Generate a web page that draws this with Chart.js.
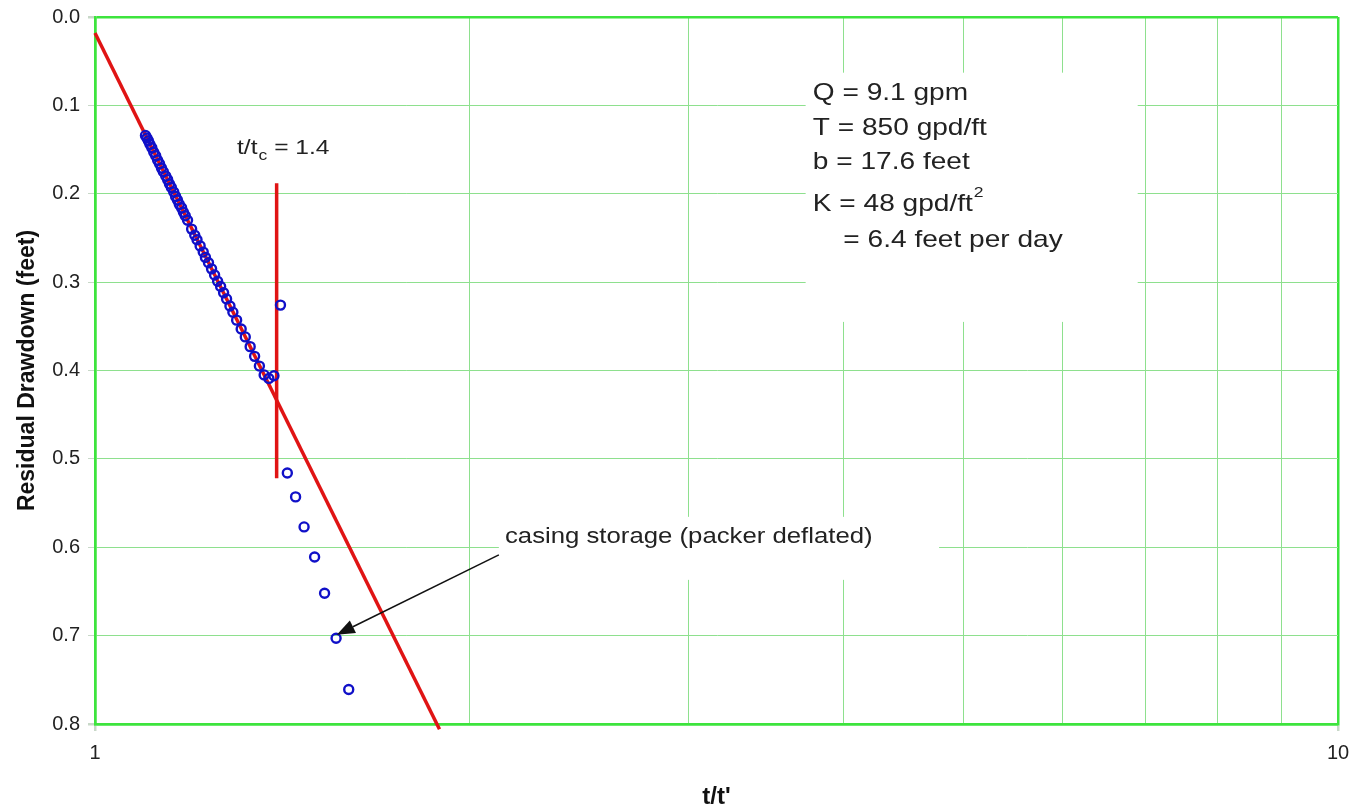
<!DOCTYPE html>
<html>
<head>
<meta charset="utf-8">
<script src="https://cdn.jsdelivr.net/npm/chart.js@4/dist/chart.umd.min.js"></script>
<style>
  html, body { margin: 0; padding: 0; background: #fff; }
  #wrap { width: 1357px; height: 810px; }
</style>
</head>
<body>
<div id="wrap"><canvas id="recoveryChart" width="1357" height="810"></canvas></div>
<script>
// recovery test data
const tRatio = [1.098, 1.101, 1.104, 1.107, 1.111, 1.115, 1.119, 1.123, 1.127, 1.131, 1.135, 1.140,
    1.144, 1.148, 1.152, 1.157, 1.161, 1.165, 1.169, 1.174, 1.178, 1.182, 1.187, 1.196, 1.203,
    1.208, 1.215, 1.222, 1.227, 1.234, 1.241, 1.248, 1.255, 1.262, 1.269, 1.276, 1.284, 1.291,
    1.300, 1.311, 1.321, 1.333, 1.344, 1.356, 1.368, 1.380, 1.393, 1.410, 1.428, 1.450, 1.473,
    1.502, 1.530, 1.563, 1.600];
const drawdown = [0.134, 0.137, 0.140, 0.144, 0.148, 0.153, 0.157, 0.162, 0.166, 0.171, 0.175, 0.180,
    0.184, 0.189, 0.193, 0.198, 0.203, 0.207, 0.212, 0.216, 0.221, 0.225, 0.230, 0.240, 0.247,
    0.252, 0.259, 0.266, 0.272, 0.278, 0.285, 0.292, 0.299, 0.305, 0.312, 0.319, 0.327, 0.334,
    0.343, 0.353, 0.362, 0.373, 0.384, 0.395, 0.405, 0.409, 0.406, 0.326, 0.516, 0.543, 0.577,
    0.611, 0.652, 0.703, 0.761];

// straight-line fit and the t/tc marker
const fitX = [1, 1.893];
const fitY = [0.018, 0.806];
const tcX = [1.4, 1.4];
const tcY = [0.188, 0.522];

const xGridValues = [1, 2, 3, 4, 5, 6, 7, 8, 9, 10];
const xTickLabels = ['1', '10'];
const yTickStep = 0.1;

const paramLines = ['Q = 9.1 gpm', 'T = 850 gpd/ft', 'b = 17.6 feet', 'K = 48 gpd/ft', '= 6.4 feet per day'];
const noteText = 'casing storage (packer deflated)';

const toPts = (xs, ys) => xs.map((x, i) => ({ x: x, y: ys[i] }));

const GRID = '#8ee08e';
const FRAME = '#3de43d';
const TXT = '#222';

// draw a string slightly stretched sideways, like the original picture
function stretchText(ctx, text, x, y, font, sx) {
    ctx.save();
    ctx.font = font;
    ctx.translate(x, y);
    ctx.scale(sx, 1);
    ctx.fillText(text, 0, 0);
    const w = ctx.measureText(text).width * sx;
    ctx.restore();
    return w;
}

const notesPlugin = {
    id: 'notes',
    beforeDatasetsDraw(chart) {
        const ctx = chart.ctx;
        const xs = chart.scales.x, ys = chart.scales.y;
        ctx.save();
        ctx.fillStyle = '#fff';
        // white text boxes over the grid
        let x0 = xs.getPixelForValue(3.73), x1 = xs.getPixelForValue(6.9);
        let y0 = ys.getPixelForValue(0.063), y1 = ys.getPixelForValue(0.345);
        ctx.fillRect(x0, y0, x1 - x0, y1 - y0);
        x0 = xs.getPixelForValue(2.113); x1 = xs.getPixelForValue(4.776);
        y0 = ys.getPixelForValue(0.5656); y1 = ys.getPixelForValue(0.6369);
        ctx.fillRect(x0, y0, x1 - x0, y1 - y0);
        ctx.restore();
    },
    afterDatasetsDraw(chart) {
        const ctx = chart.ctx;
        const xs = chart.scales.x, ys = chart.scales.y;
        const sx = 1.17;
        ctx.save();
        ctx.fillStyle = TXT;
        ctx.textBaseline = 'middle';
        ctx.textAlign = 'left';

        // parameter block
        const f24 = '24px "Liberation Sans", Arial, sans-serif';
        const px = xs.getPixelForValue(3.78);
        const rows = [0.086, 0.1256, 0.165, 0.2115, 0.2523];
        for (let i = 0; i < 4; i++) {
            const w = stretchText(ctx, paramLines[i], px, ys.getPixelForValue(rows[i]), f24, sx);
            if (i === 3) {
                stretchText(ctx, '2', px + w + 1, ys.getPixelForValue(rows[i]) - 11,
                    '15px "Liberation Sans", Arial, sans-serif', sx);
            }
        }
        stretchText(ctx, paramLines[4], xs.getPixelForValue(4.0), ys.getPixelForValue(rows[4]), f24, sx);

        // t/tc label
        const f21 = '21px "Liberation Sans", Arial, sans-serif';
        let lx = xs.getPixelForValue(1.301);
        const ly = ys.getPixelForValue(0.149);
        lx += stretchText(ctx, 't/t', lx, ly, f21, sx);
        lx += stretchText(ctx, 'c', lx + 1, ly + 7, '15px "Liberation Sans", Arial, sans-serif', sx) + 1;
        stretchText(ctx, ' = 1.4', lx, ly, f21, sx);

        // casing storage note and arrow
        stretchText(ctx, noteText, xs.getPixelForValue(2.137), ys.getPixelForValue(0.588),
            '22px "Liberation Sans", Arial, sans-serif', sx);
        const ax0 = xs.getPixelForValue(2.113), ay0 = ys.getPixelForValue(0.6086);
        const ax1 = xs.getPixelForValue(1.565), ay1 = ys.getPixelForValue(0.699);
        const ang = Math.atan2(ay1 - ay0, ax1 - ax0);
        const head = 18, half = 7;
        const bx = ax1 - head * Math.cos(ang), by = ay1 - head * Math.sin(ang);
        ctx.strokeStyle = '#111';
        ctx.lineWidth = 1.5;
        ctx.beginPath();
        ctx.moveTo(ax0, ay0);
        ctx.lineTo(bx, by);
        ctx.stroke();
        ctx.fillStyle = '#111';
        ctx.beginPath();
        ctx.moveTo(ax1, ay1);
        ctx.lineTo(bx + half * Math.sin(ang), by - half * Math.cos(ang));
        ctx.lineTo(bx - half * Math.sin(ang), by + half * Math.cos(ang));
        ctx.closePath();
        ctx.fill();
        ctx.restore();
    }
};

const isEnd = v => Math.abs(v - 1) < 1e-9 || Math.abs(v - 10) < 1e-9;
const isYEnd = v => Math.abs(v) < 1e-9 || Math.abs(v - 0.8) < 1e-9;

new Chart(document.getElementById('recoveryChart').getContext('2d'), {
    type: 'scatter',
    data: {
        datasets: [{
            label: 'Residual drawdown',
            data: toPts(tRatio, drawdown),
            showLine: false,
            pointStyle: 'circle',
            pointRadius: 4.5,
            pointBorderWidth: 2.4,
            pointBorderColor: '#1010c8',
            pointBackgroundColor: 'rgba(255,255,255,0)',
            order: 1
        }, {
            label: 'Fit',
            data: toPts(fitX, fitY),
            showLine: true,
            borderColor: '#e01414',
            borderWidth: 3.5,
            pointRadius: 0,
            clip: false,
            order: 2
        }, {
            label: 't/tc',
            data: toPts(tcX, tcY),
            showLine: true,
            borderColor: '#e01414',
            borderWidth: 3.5,
            pointRadius: 0,
            order: 3
        }]
    },
    options: {
        responsive: false,
        animation: false,
        layout: { padding: { left: 0, right: 19, top: 17, bottom: 0 } },
        plugins: {
            legend: { display: false },
            tooltip: { enabled: false }
        },
        scales: {
            x: {
                type: 'logarithmic',
                min: 1,
                max: 10,
                afterBuildTicks(scale) { scale.ticks = xGridValues.map(v => ({ value: v })); },
                afterFit(scale) {
                    scale.height = 86;
                    scale.paddingLeft = 0;
                    scale.paddingRight = 0;
                },
                ticks: {
                    autoSkip: false,
                    maxRotation: 0,
                    padding: 10,
                    color: TXT,
                    font: { family: '"Liberation Sans", Arial, sans-serif', size: 20 },
                    callback(value) {
                        const s = String(value);
                        return xTickLabels.includes(s) ? s : '';
                    }
                },
                grid: {
                    color: c => (c.tick && isEnd(c.tick.value)) ? FRAME : GRID,
                    lineWidth: c => (c.tick && isEnd(c.tick.value)) ? 2.5 : 1,
                    tickColor: c => (c.tick && isEnd(c.tick.value)) ? '#c8d8c8' : 'rgba(0,0,0,0)',
                    tickLength: 7
                },
                border: { color: FRAME, width: 2.5 },
                title: {
                    display: true,
                    text: "t/t'",
                    color: '#111',
                    font: { family: '"Liberation Sans", Arial, sans-serif', size: 24, weight: 'bold', lineHeight: 1 },
                    padding: { top: 0, bottom: 1 }
                }
            },
            y: {
                min: 0,
                max: 0.8,
                reverse: true,
                afterFit(scale) {
                    scale.width = 95;
                    scale.paddingTop = 0;
                    scale.paddingBottom = 0;
                },
                ticks: {
                    stepSize: yTickStep,
                    padding: 8,
                    color: TXT,
                    font: { family: '"Liberation Sans", Arial, sans-serif', size: 20 },
                    callback: v => Number(v).toFixed(1)
                },
                grid: {
                    color: c => (c.tick && isYEnd(c.tick.value)) ? FRAME : GRID,
                    lineWidth: c => (c.tick && isYEnd(c.tick.value)) ? 2.5 : 1,
                    tickColor: '#c8d8c8',
                    tickLength: 7
                },
                border: { color: FRAME, width: 2.5 },
                title: {
                    display: true,
                    text: 'Residual Drawdown (feet)',
                    color: '#111',
                    font: { family: '"Liberation Sans", Arial, sans-serif', size: 23, weight: 'bold', lineHeight: 1.2 },
                    padding: { top: 14, bottom: 0 }
                }
            }
        }
    },
    plugins: [notesPlugin]
});
</script>
</body>
</html>
